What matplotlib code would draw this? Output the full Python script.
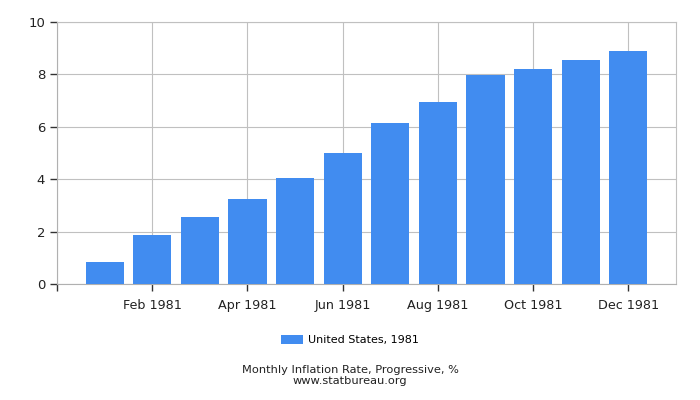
import matplotlib.pyplot as plt

months = ['Jan 1981', 'Feb 1981', 'Mar 1981', 'Apr 1981', 'May 1981', 'Jun 1981',
          'Jul 1981', 'Aug 1981', 'Sep 1981', 'Oct 1981', 'Nov 1981', 'Dec 1981']
values = [0.83, 1.86, 2.55, 3.24, 4.05, 5.0, 6.15, 6.95, 7.98, 8.2, 8.55, 8.9]
yticks = [0, 2, 4, 6, 8, 10]

fig = plt.figure(figsize=(7, 4), dpi=100)
ax = fig.add_axes([57 / 700, 1 - 284 / 400, (676 - 57) / 700, (284 - 22) / 400])

x = list(range(len(months)))
bars = ax.bar(x, values, width=0.8, color='#418CF0', zorder=3, label='United States, 1981')

ax.set_xlim(-1, 12)
ax.set_ylim(0, 10)
ax.set_yticks(yticks)
ax.set_yticklabels([str(v) for v in yticks], fontsize=9.5)
tick_pos = [-1] + x[1::2]
ax.set_xticks(tick_pos)
ax.set_xticklabels([''] + months[1::2], fontsize=9.2)
ax.tick_params(axis='both', length=5, width=1, color='#333333', colors='#222222')
ax.tick_params(axis='x', pad=6)

ax.grid(True, color='#c0c0c0', linewidth=0.8, zorder=0)
for s in ['top', 'right']:
    ax.spines[s].set_color('#c0c0c0')
for s in ['left', 'bottom']:
    ax.spines[s].set_color('#b0b0b0')

fig.legend(handles=[bars], loc='center', bbox_to_anchor=(0.5, 1 - 340 / 400),
           frameon=False, fontsize=8, handlelength=2.0, handleheight=0.9, handletextpad=0.5)
fig.text(0.5, 1 - 370 / 400, 'Monthly Inflation Rate, Progressive, %', ha='center', va='center',
         fontsize=8.2, color='#222222')
fig.text(0.5, 1 - 381 / 400, 'www.statbureau.org', ha='center', va='center',
         fontsize=8.2, color='#222222')

fig.savefig('out.png', dpi=100)
